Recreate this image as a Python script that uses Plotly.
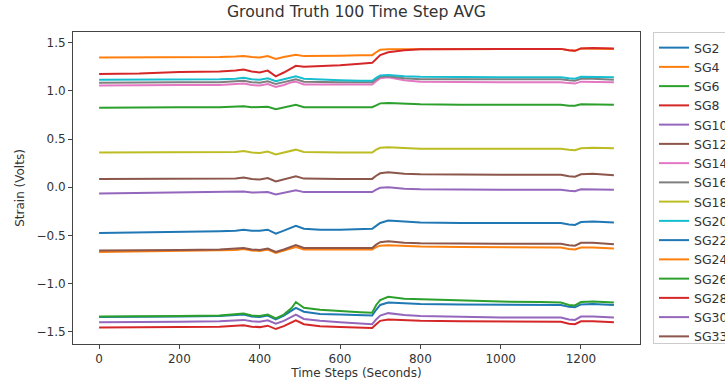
import plotly.graph_objects as go

time_steps = [0, 100, 200, 300, 340, 360, 380, 400, 420, 440, 460, 480, 490, 510, 550, 600,
              650, 680, 690, 700, 720, 760, 800, 900, 1000, 1100, 1150, 1170, 1185, 1200, 1230, 1282]

sg2 = [-0.475, -0.47, -0.46, -0.455, -0.45, -0.44, -0.45, -0.45, -0.44, -0.48, -0.45, -0.42, -0.40, -0.43, -0.44, -0.44,
       -0.435, -0.43, -0.40, -0.37, -0.345, -0.355, -0.365, -0.37, -0.37, -0.37, -0.37, -0.385, -0.39, -0.36, -0.355, -0.365]
sg4 = [1.345, 1.345, 1.35, 1.35, 1.355, 1.36, 1.35, 1.345, 1.36, 1.33, 1.35, 1.37, 1.375, 1.36, 1.36, 1.365,
       1.37, 1.37, 1.40, 1.425, 1.43, 1.43, 1.43, 1.435, 1.435, 1.435, 1.435, 1.42, 1.415, 1.44, 1.44, 1.435]
sg6 = [0.825, 0.83, 0.83, 0.83, 0.835, 0.84, 0.83, 0.83, 0.835, 0.81, 0.83, 0.85, 0.855, 0.83, 0.83, 0.83,
       0.83, 0.83, 0.85, 0.87, 0.875, 0.865, 0.86, 0.855, 0.855, 0.855, 0.855, 0.845, 0.845, 0.86, 0.86, 0.855]
sg8 = [1.175, 1.18, 1.195, 1.20, 1.21, 1.22, 1.20, 1.19, 1.21, 1.15, 1.19, 1.24, 1.26, 1.25, 1.255, 1.265,
       1.28, 1.29, 1.33, 1.37, 1.40, 1.42, 1.43, 1.435, 1.435, 1.435, 1.435, 1.42, 1.415, 1.44, 1.445, 1.44]
sg10 = [-0.065, -0.06, -0.06, -0.055, -0.05, -0.045, -0.055, -0.055, -0.05, -0.075, -0.055, -0.035, -0.03, -0.05, -0.05, -0.05,
        -0.05, -0.05, -0.025, -0.005, 0.0, -0.015, -0.02, -0.025, -0.025, -0.025, -0.025, -0.035, -0.04, -0.02, -0.02, -0.025]
sg12 = [0.085, 0.085, 0.085, 0.085, 0.09, 0.10, 0.085, 0.08, 0.095, 0.06, 0.085, 0.11, 0.115, 0.09, 0.085, 0.085,
        0.087, 0.087, 0.12, 0.145, 0.155, 0.14, 0.135, 0.13, 0.13, 0.13, 0.13, 0.115, 0.11, 0.135, 0.14, 0.125]
sg14 = [1.055, 1.06, 1.06, 1.06, 1.065, 1.075, 1.06, 1.055, 1.07, 1.04, 1.06, 1.09, 1.095, 1.065, 1.065, 1.065,
        1.065, 1.065, 1.10, 1.13, 1.14, 1.11, 1.095, 1.09, 1.09, 1.09, 1.09, 1.08, 1.075, 1.095, 1.095, 1.09]
sg16 = [1.085, 1.09, 1.09, 1.09, 1.095, 1.105, 1.09, 1.085, 1.10, 1.07, 1.09, 1.115, 1.12, 1.095, 1.09, 1.09,
        1.09, 1.09, 1.12, 1.145, 1.15, 1.13, 1.12, 1.12, 1.12, 1.12, 1.12, 1.11, 1.105, 1.125, 1.125, 1.115]
sg18 = [0.36, 0.36, 0.36, 0.36, 0.365, 0.375, 0.36, 0.355, 0.37, 0.34, 0.36, 0.385, 0.39, 0.365, 0.36, 0.36,
        0.36, 0.36, 0.39, 0.41, 0.415, 0.405, 0.40, 0.40, 0.40, 0.40, 0.40, 0.39, 0.385, 0.405, 0.41, 0.405]
sg20 = [1.115, 1.115, 1.115, 1.12, 1.125, 1.135, 1.12, 1.115, 1.13, 1.10, 1.12, 1.145, 1.15, 1.125, 1.115, 1.11,
        1.105, 1.105, 1.135, 1.16, 1.165, 1.15, 1.145, 1.14, 1.14, 1.14, 1.14, 1.13, 1.125, 1.145, 1.145, 1.14]
sg22 = [-1.345, -1.345, -1.34, -1.335, -1.33, -1.32, -1.34, -1.345, -1.33, -1.37, -1.33, -1.28, -1.25, -1.29, -1.315, -1.32,
        -1.325, -1.33, -1.27, -1.22, -1.195, -1.205, -1.21, -1.215, -1.22, -1.22, -1.22, -1.24, -1.245, -1.215, -1.21, -1.22]
sg24 = [-0.67, -0.665, -0.66, -0.655, -0.65, -0.64, -0.655, -0.66, -0.645, -0.68, -0.655, -0.625, -0.62, -0.645, -0.645, -0.645,
        -0.645, -0.645, -0.62, -0.605, -0.60, -0.61, -0.615, -0.62, -0.625, -0.625, -0.625, -0.64, -0.645, -0.625, -0.625, -0.635]
sg26 = [-1.34, -1.34, -1.335, -1.33, -1.32, -1.31, -1.33, -1.335, -1.32, -1.36, -1.32, -1.25, -1.19, -1.25, -1.27, -1.285,
        -1.295, -1.30, -1.22, -1.17, -1.135, -1.155, -1.16, -1.175, -1.185, -1.19, -1.195, -1.22, -1.225, -1.19, -1.185, -1.195]
sg28 = [-1.455, -1.455, -1.45, -1.445, -1.44, -1.43, -1.445, -1.45, -1.435, -1.47, -1.44, -1.40, -1.38, -1.42, -1.44, -1.45,
        -1.455, -1.46, -1.42, -1.385, -1.37, -1.38, -1.385, -1.39, -1.395, -1.395, -1.395, -1.415, -1.42, -1.39, -1.39, -1.40]
sg30 = [-1.40, -1.40, -1.395, -1.39, -1.385, -1.375, -1.39, -1.395, -1.38, -1.415, -1.385, -1.34, -1.32, -1.365, -1.385, -1.40,
        -1.41, -1.42, -1.37, -1.33, -1.305, -1.325, -1.335, -1.345, -1.35, -1.35, -1.35, -1.37, -1.375, -1.34, -1.34, -1.35]
sg33 = [-0.655, -0.655, -0.65, -0.645, -0.64, -0.63, -0.645, -0.65, -0.635, -0.67, -0.645, -0.61, -0.60, -0.63, -0.63, -0.63,
        -0.63, -0.63, -0.595, -0.57, -0.56, -0.575, -0.58, -0.585, -0.585, -0.585, -0.585, -0.60, -0.605, -0.575, -0.575, -0.59]

series_names = ["SG2", "SG4", "SG6", "SG8", "SG10", "SG12", "SG14", "SG16",
                "SG18", "SG20", "SG22", "SG24", "SG26", "SG28", "SG30", "SG33"]
series_values = [sg2, sg4, sg6, sg8, sg10, sg12, sg14, sg16,
                 sg18, sg20, sg22, sg24, sg26, sg28, sg30, sg33]
colors = ["#1f77b4", "#ff7f0e", "#2ca02c", "#d62728", "#9467bd", "#8c564b", "#e377c2", "#7f7f7f",
          "#bcbd22", "#17becf"]

fig = go.Figure()
for i, (name, vals) in enumerate(zip(series_names, series_values)):
    fig.add_trace(go.Scatter(x=time_steps, y=vals, mode="lines", name=name,
                             line=dict(color=colors[i % 10], width=2)))

font = "DejaVu Sans, Arial, sans-serif"
axis_common = dict(showline=True, linecolor="#444", linewidth=1, mirror=True, ticks="outside",
                   ticklen=4, tickcolor="#444", showgrid=False, zeroline=False,
                   tickfont=dict(size=12, color="#333", family=font))

W, H = 725, 383
L, R, T, B = 73, 85, 32, 39
fig.update_layout(
    width=W, height=H,
    margin=dict(l=L, r=R, t=T, b=B, autoexpand=False),
    paper_bgcolor="white", plot_bgcolor="white",
    title=dict(text="Ground Truth 100 Time Step AVG", x=(L + (W - R)) / 2 / W, xanchor="center",
               y=1 - 12 / H, yanchor="middle", font=dict(size=15.7, color="#333", family=font)),
    xaxis=dict(range=[-65, 1347], tickvals=[0, 200, 400, 600, 800, 1000, 1200],
               title=dict(text="Time Steps (Seconds)", font=dict(size=12, color="#333", family=font), standoff=2),
               **axis_common),
    yaxis=dict(range=[-1.625, 1.61], tickvals=[-1.5, -1.0, -0.5, 0.0, 0.5, 1.0, 1.5],
               ticktext=["\u22121.5", "\u22121.0", "\u22120.5", "0.0", "0.5", "1.0", "1.5"],
               title=dict(text="Strain (Volts)", font=dict(size=12, color="#333", family=font), standoff=9),
               **axis_common),
    legend=dict(x=(653 - L) / (W - L - R), y=1.0, xanchor="left", yanchor="top",
                bordercolor="#ccc", borderwidth=1,
                font=dict(size=12.5, color="#333", family=font), itemwidth=30, tracegroupgap=0,
                bgcolor="white"),
    hovermode=False,
)

fig.write_html("out.html", config={"displayModeBar": False, "staticPlot": True},
               post_script="document.body.style.margin='0';")
